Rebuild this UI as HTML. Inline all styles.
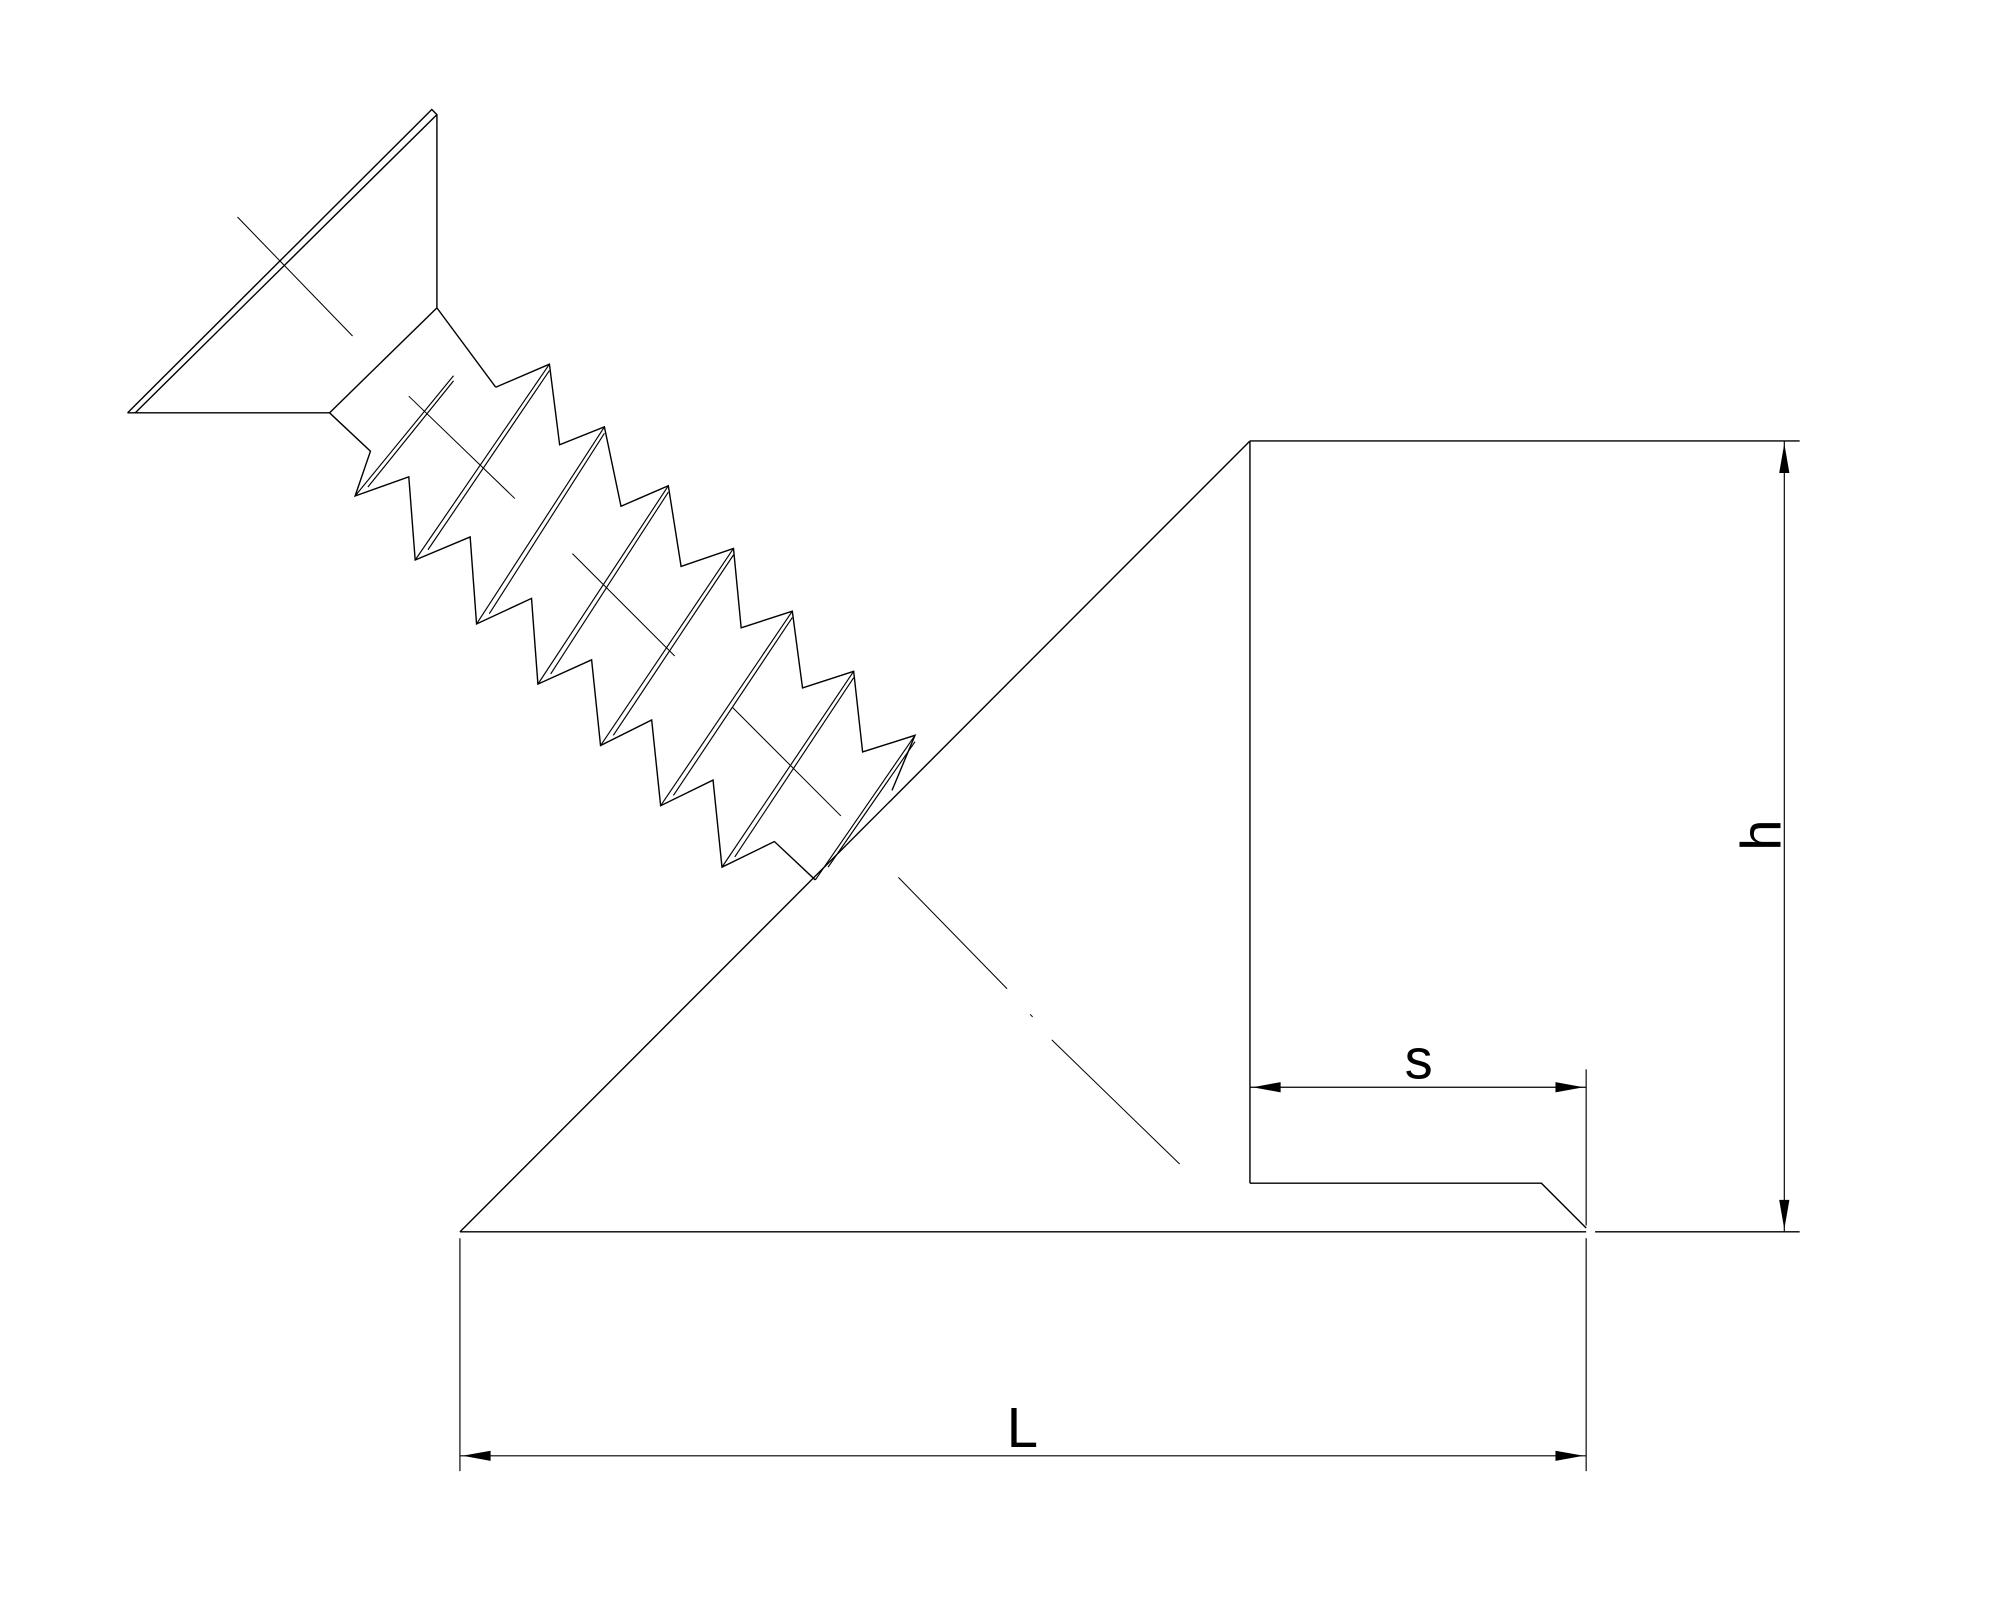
<!DOCTYPE html>
<html><head><style>html,body{margin:0;padding:0;background:#fff}svg{display:block}</style></head>
<body>
<svg width="2000" height="1600" viewBox="0 0 1552 1241" preserveAspectRatio="none" xmlns="http://www.w3.org/2000/svg">
<g transform="matrix(0.992,0,0,0.9926,-2.2,-2.4)">
<g fill="none" stroke="#000" stroke-width="1.1">
<!-- screw head -->
<polyline points="102,325 340,88 344,92 344,243"/>
<line x1="108" y1="325" x2="344" y2="92"/>
<line x1="102" y1="325" x2="260" y2="325"/>
<line x1="188" y1="172" x2="278" y2="265" stroke-width="0.8"/>
<line x1="344" y1="243" x2="390" y2="305"/>
<line x1="260" y1="325" x2="344" y2="243"/>
<!-- thread profile -->
<polyline points="390,305 432,287 440,350 475,336 488,398 525,382 535,445 576,431 582,493 622,480 630,540 670,527 677,590 718,577 700,620"/>
<polyline points="260,325 292,355 280,390 322,375 327,440 370,422 375,490 418,470 423,537 465,518 472,585 512,565 519,632 560,612 567,680 608,660 640,690"/>
<!-- crests -->
<g stroke-width="0.9">
<line x1="280" y1="390" x2="357" y2="296"/><line x1="290" y1="383" x2="357" y2="300"/>
<line x1="327" y1="440" x2="432" y2="287"/><line x1="337" y1="432" x2="432" y2="292"/>
<line x1="375" y1="490" x2="475" y2="336"/><line x1="385" y1="482" x2="475" y2="341"/>
<line x1="423" y1="537" x2="525" y2="382"/><line x1="433" y1="529" x2="525" y2="387"/>
<line x1="472" y1="585" x2="576" y2="431"/><line x1="482" y1="577" x2="576" y2="436"/>
<line x1="519" y1="632" x2="622" y2="480"/><line x1="529" y1="624" x2="622" y2="485"/>
<line x1="567" y1="680" x2="670" y2="527"/><line x1="577" y1="672" x2="670" y2="532"/>
<line x1="640" y1="690" x2="718" y2="577"/><line x1="650" y1="680" x2="718" y2="582"/>
</g>
<!-- centre line -->
<g stroke-width="0.8">
<line x1="322" y1="312" x2="405" y2="392"/>
<line x1="450" y1="435" x2="530" y2="515"/>
<line x1="575" y1="555" x2="660" y2="640"/>
<line x1="705" y1="688" x2="790" y2="775"/>
<line x1="808" y1="795" x2="810" y2="797"/>
<line x1="825" y1="815" x2="925" y2="912"/>
</g>
<!-- part -->
<line x1="362" y1="965" x2="980" y2="347"/>
<line x1="980" y1="347" x2="1410" y2="347"/>
<line x1="980" y1="347" x2="980" y2="927"/>
<polyline points="980,927 1208,927 1243,962"/>
<line x1="362" y1="965" x2="1243" y2="965"/>
<line x1="1250" y1="965" x2="1410" y2="965"/>
<!-- dims -->
<g stroke-width="0.9">
<line x1="1398" y1="347" x2="1398" y2="965"/>
<line x1="980" y1="852" x2="1243" y2="852"/>
<line x1="1243" y1="838" x2="1243" y2="960"/>
<line x1="362" y1="970" x2="362" y2="1152"/>
<line x1="1243" y1="970" x2="1243" y2="1152"/>
<line x1="362" y1="1140" x2="1243" y2="1140"/>
</g>
</g>
<g fill="#000">
<polygon points="1398,349 1394,372 1402,372"/>
<polygon points="1398,963 1394,940 1402,940"/>
<polygon points="982,852 1004,848 1004,856"/>
<polygon points="1241,852 1219,848 1219,856"/>
<polygon points="364,1140 386,1136 386,1144"/>
<polygon points="1241,1140 1219,1136 1219,1144"/>
</g>
<g font-family="Liberation Sans, sans-serif" font-size="44" fill="#000">
<text x="1112" y="845" text-anchor="middle">s</text>
<text x="802" y="1133" text-anchor="middle">L</text>
<text transform="translate(1395,655) rotate(-90)" text-anchor="middle">h</text>
</g>
</g>
</svg>
</body></html>
